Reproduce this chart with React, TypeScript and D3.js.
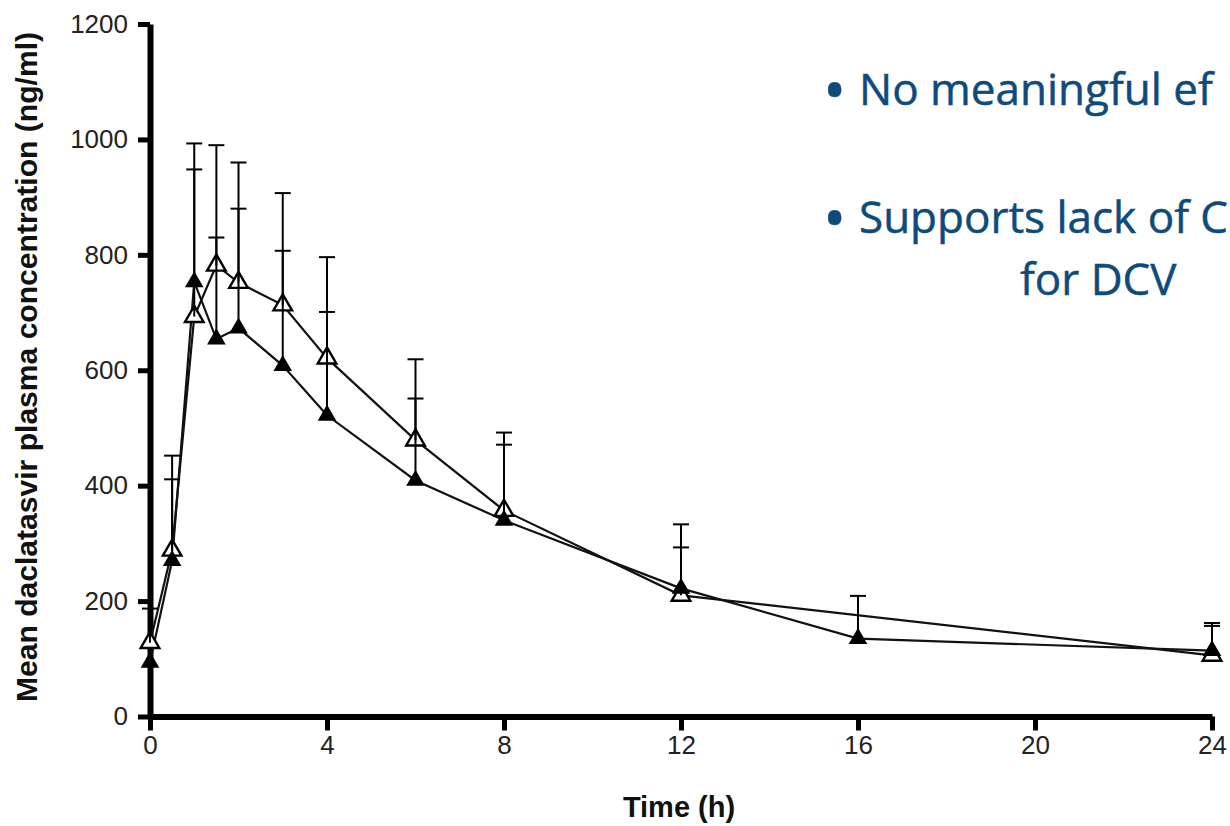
import React, { useEffect, useRef } from "react";
import * as d3 from "d3";

// mean plasma concentration (ng/ml) by time (h)
const filledTimes = [0, 0.5, 1, 1.5, 2, 3, 4, 6, 8, 12, 16, 24];
const filledMean = [94, 270, 753, 654, 673, 608, 522, 409, 340, 222, 135, 114];
const filledUpper = [null, 411, 993, 830, 880, 807, 701, 551, 471, 293, 209, 162];

const openTimes = [0, 0.5, 1, 1.5, 2, 3, 4, 6, 8, 12, 24];
const openMean = [128, 288, 693, 782, 752, 713, 621, 479, 357, 210, 106];
const openUpper = [187, 452, 948, 990, 960, 907, 796, 619, 492, 333, 157];

const xTicks = [0, 4, 8, 12, 16, 20, 24];
const yTicks = [0, 200, 400, 600, 800, 1000, 1200];

const bullet1 = "No meaningful ef";
const bullet2a = "Supports lack of C";
const bullet2b = "for DCV";

const W = 1230;
const H = 826;

const App = () => {
  const svgRef = useRef<SVGSVGElement>(null);

  useEffect(() => {
    const svg = d3.select(svgRef.current);
    svg.selectAll("*").remove();

    const x = d3.scaleLinear().domain([0, 24]).range([150, 1212]);
    const y = d3.scaleLinear().domain([0, 1200]).range([716.5, 24]);

    const font = "'Liberation Sans', Arial, sans-serif";

    // axes
    const gx = svg
      .append("g")
      .attr("transform", "translate(0,716.5)")
      .call(
        d3.axisBottom(x).tickValues(xTicks).tickSize(14).tickSizeOuter(0).tickPadding(5)
      );
    const gy = svg
      .append("g")
      .attr("transform", "translate(150,0)")
      .call(
        d3
          .axisLeft(y)
          .tickValues(yTicks)
          .tickFormat(d3.format("d"))
          .tickSize(12)
          .tickSizeOuter(0)
          .tickPadding(10)
      );

    [gx, gy].forEach((g) => {
      g.attr("font-family", font).attr("font-size", 26);
      g.select(".domain").attr("stroke", "#000").attr("stroke-width", 6);
      g.selectAll(".tick line").attr("stroke", "#000").attr("stroke-width", 5);
      g.selectAll(".tick text").attr("fill", "#222");
    });

    // axis titles
    svg
      .append("text")
      .attr("x", 679)
      .attr("y", 817)
      .attr("text-anchor", "middle")
      .attr("font-family", font)
      .attr("font-weight", "bold")
      .attr("font-size", 29)
      .attr("fill", "#111")
      .text("Time (h)");

    svg
      .append("text")
      .attr("transform", "translate(37,367) rotate(-90)")
      .attr("text-anchor", "middle")
      .attr("font-family", font)
      .attr("font-weight", "bold")
      .attr("font-size", 29)
      .attr("textLength", 670)
      .attr("lengthAdjust", "spacingAndGlyphs")
      .attr("fill", "#111")
      .text("Mean daclatasvir plasma concentration (ng/ml)");

    const line = d3
      .line<[number, number]>()
      .x((d) => x(d[0]))
      .y((d) => y(d[1]));

    const openPts: [number, number][] = openTimes.map((t, i) => [t, openMean[i]]);
    const filledPts: [number, number][] = filledTimes.map((t, i) => [t, filledMean[i]]);

    svg
      .append("path")
      .attr("d", line(openPts))
      .attr("fill", "none")
      .attr("stroke", "#111")
      .attr("stroke-width", 2.2);
    svg
      .append("path")
      .attr("d", line(filledPts))
      .attr("fill", "none")
      .attr("stroke", "#111")
      .attr("stroke-width", 2.2);

    const tri = d3.symbol().type(d3.symbolTriangle).size(150);

    svg
      .append("g")
      .selectAll("path")
      .data(openPts)
      .enter()
      .append("path")
      .attr("d", tri)
      .attr("transform", (d) => `translate(${x(d[0])},${y(d[1])})`)
      .attr("fill", "#fff")
      .attr("stroke", "#000")
      .attr("stroke-width", 2.4);

    svg
      .append("g")
      .selectAll("path")
      .data(filledPts)
      .enter()
      .append("path")
      .attr("d", tri)
      .attr("transform", (d) => `translate(${x(d[0])},${y(d[1])})`)
      .attr("fill", "#000");

    // upper error bars
    const bars = [
      ...openTimes.map((t, i) => ({ t, m: openMean[i], u: openUpper[i] })),
      ...filledTimes.map((t, i) => ({ t, m: filledMean[i], u: filledUpper[i] })),
    ].filter((d) => d.u != null) as { t: number; m: number; u: number }[];

    const eb = svg.append("g").attr("stroke", "#000").attr("stroke-width", 2);
    bars.forEach((d) => {
      eb.append("line")
        .attr("x1", x(d.t))
        .attr("x2", x(d.t))
        .attr("y1", y(d.m))
        .attr("y2", y(d.u));
      eb.append("line")
        .attr("x1", x(d.t) - 8)
        .attr("x2", x(d.t) + 8)
        .attr("y1", y(d.u))
        .attr("y2", y(d.u));
    });

    // slide bullets
    const blue = "#0f4a7c";
    const sans = "'Open Sans', 'Noto Sans', sans-serif";
    const txt = (s: string, tx: number, ty: number, size = 44) =>
      svg
        .append("text")
        .attr("x", tx)
        .attr("y", ty)
        .attr("font-family", sans)
        .attr("font-size", size)
        .attr("fill", blue)
        .attr("stroke", blue)
        .attr("stroke-width", 0.5)
        .text(s);
    txt("\u2022", 823, 112, 62);
    txt(bullet1, 859, 105);
    txt("\u2022", 823, 240, 62);
    txt(bullet2a, 859, 233);
    txt(bullet2b, 1020, 295);
  }, []);

  return (
    <div style={{ position: "absolute", left: 0, top: 0 }}>
      <svg ref={svgRef} width={W} height={H} style={{ display: "block", background: "#fff" }} />
    </div>
  );
};

export default App;
